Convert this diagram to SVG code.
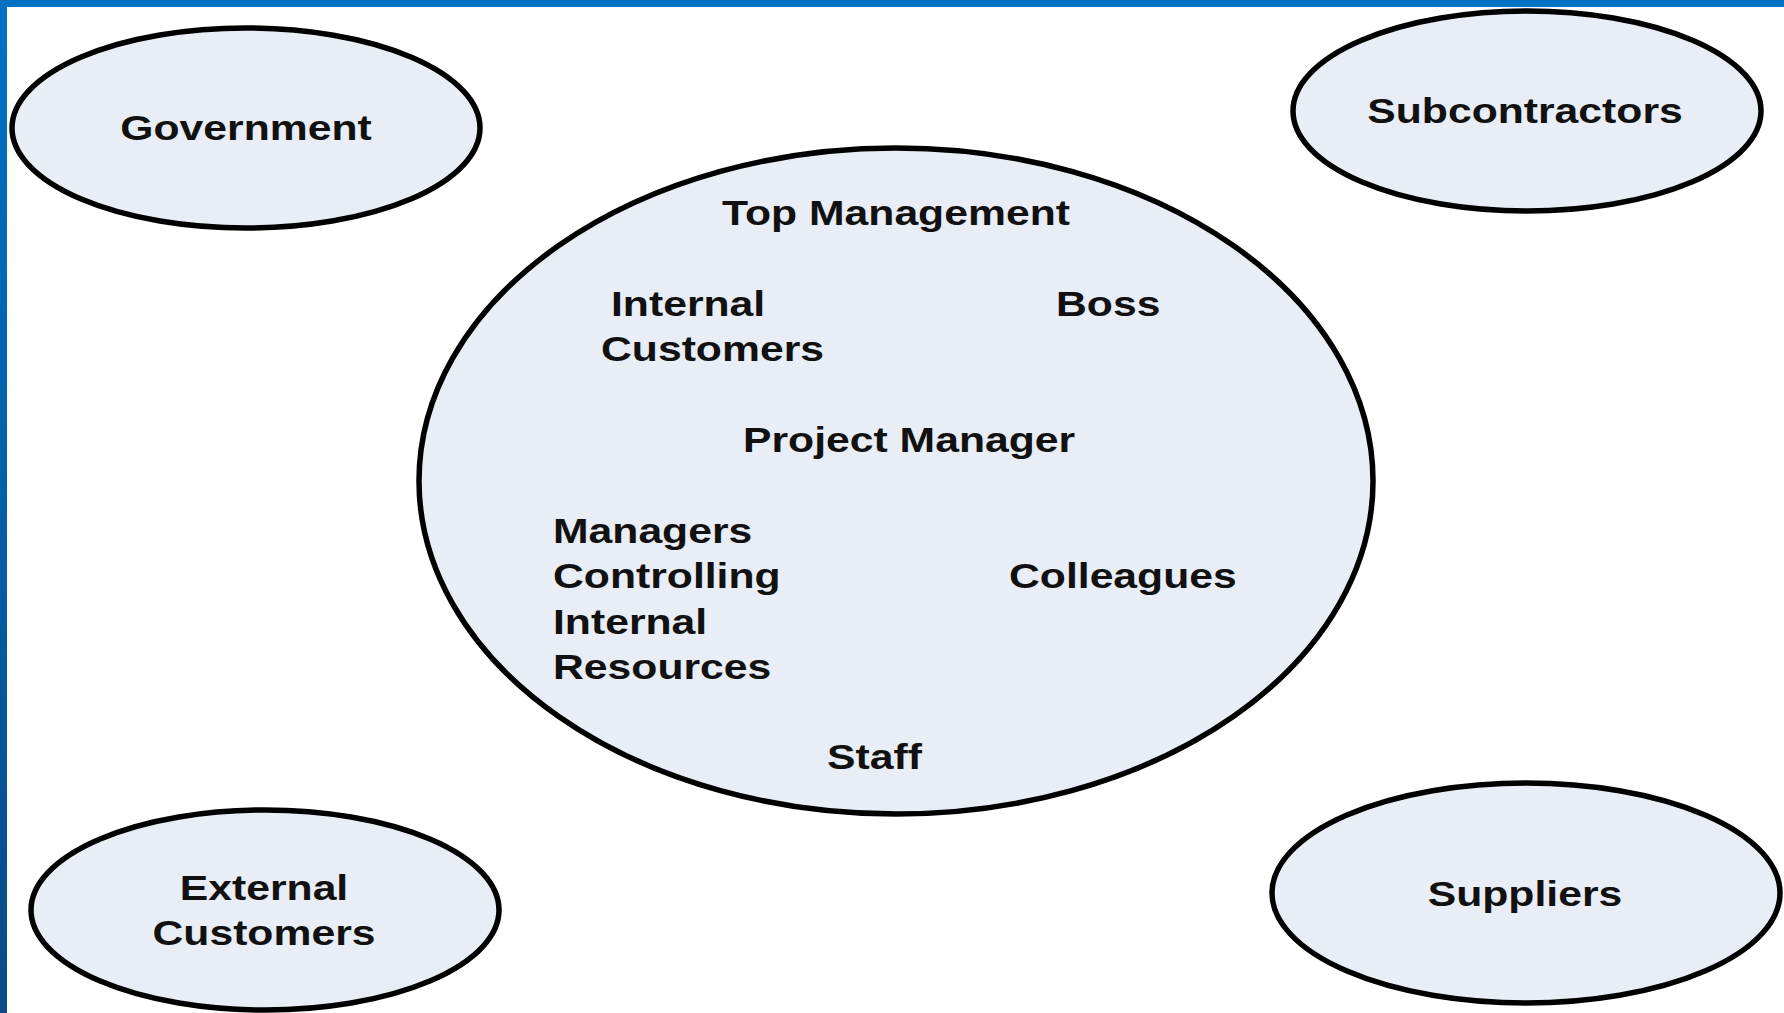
<svg xmlns="http://www.w3.org/2000/svg" width="1784" height="1013" viewBox="0 0 1784 1013">
  <defs>
    <linearGradient id="sideBar" x1="0" y1="0" x2="0" y2="1">
      <stop offset="0" stop-color="#0072C6"/>
      <stop offset="1" stop-color="#0B4A86"/>
    </linearGradient>
  </defs>
  <style>
    .node { fill: #E8EDF6; stroke: #000000; stroke-width: 5.5; }
    .lbl { font-family: "Liberation Sans", Arial, sans-serif; font-weight: bold; font-size: 35px; fill: #111111; }
    .mid { text-anchor: middle; }
  </style>
  <rect x="0" y="0" width="1784" height="1013" fill="#FFFFFF"/>
  <rect x="0" y="0" width="1784" height="7" fill="#0072C6"/>
  <rect x="0" y="0" width="7" height="1013" fill="url(#sideBar)"/>

  <g id="connectors"></g>

  <g id="government">
    <ellipse class="node" cx="246" cy="128" rx="234" ry="100"/>
    <text class="lbl mid" transform="translate(246,140) scale(1.22,1)" x="0" y="0">Government</text>
  </g>

  <g id="subcontractors">
    <ellipse class="node" cx="1527" cy="111" rx="234" ry="100"/>
    <text class="lbl mid" transform="translate(1525,123) scale(1.22,1)" x="0" y="0">Subcontractors</text>
  </g>

  <g id="external-customers">
    <ellipse class="node" cx="265" cy="910" rx="234" ry="100"/>
    <text class="lbl mid" transform="translate(264,900) scale(1.22,1)" x="0" y="0"><tspan x="0" dy="0">External</tspan><tspan x="0" dy="45.5">Customers</tspan></text>
  </g>

  <g id="suppliers">
    <ellipse class="node" cx="1526" cy="893" rx="254" ry="110"/>
    <text class="lbl mid" transform="translate(1525,906) scale(1.22,1)" x="0" y="0">Suppliers</text>
  </g>

  <g id="project-organisation">
    <ellipse class="node" cx="896" cy="481" rx="477" ry="333"/>
    <g id="top-management">
      <text class="lbl mid" transform="translate(896,225) scale(1.22,1)" x="0" y="0">Top Management</text>
    </g>
    <g id="internal-customers">
      <text class="lbl" transform="translate(611,316) scale(1.22,1)" x="0" y="0">Internal</text>
      <text class="lbl" transform="translate(601,361) scale(1.22,1)" x="0" y="0">Customers</text>
    </g>
    <g id="boss">
      <text class="lbl" transform="translate(1056,316) scale(1.22,1)" x="0" y="0">Boss</text>
    </g>
    <g id="project-manager">
      <text class="lbl" transform="translate(743,452) scale(1.22,1)" x="0" y="0">Project Manager</text>
    </g>
    <g id="managers-controlling">
      <text class="lbl" transform="translate(553,543) scale(1.22,1)" x="0" y="0"><tspan x="0" dy="0">Managers</tspan><tspan x="0" dy="45.5">Controlling</tspan><tspan x="0" dy="45.5">Internal</tspan><tspan x="0" dy="45.5">Resources</tspan></text>
    </g>
    <g id="colleagues">
      <text class="lbl" transform="translate(1009,588) scale(1.22,1)" x="0" y="0">Colleagues</text>
    </g>
    <g id="staff">
      <text class="lbl" transform="translate(827,769) scale(1.22,1)" x="0" y="0">Staff</text>
    </g>
  </g>
</svg>
